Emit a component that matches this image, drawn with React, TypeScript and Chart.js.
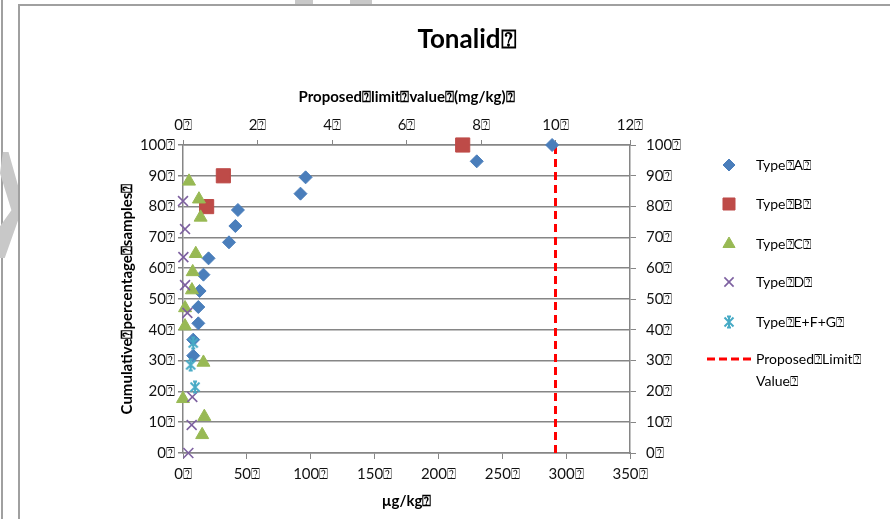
import React, { useEffect, useRef } from 'react';
import { Chart, registerables } from 'chart.js';
import { drawPoint } from 'chart.js/helpers';

Chart.register(...registerables);

const Q = '\u2370';
const FONT = 'Lato, "Open Sans", sans-serif';

const chartTitle = `Tonalid${Q}`;
const topAxisTitle = `Proposed${Q}limit${Q}value${Q}(mg/kg)${Q}`;
const bottomAxisTitle = `µg/kg${Q}`;
const yAxisTitle = `Cumulative${Q}percentage${Q}samples${Q}`;

const seriesNames = [`Type${Q}A${Q}`, `Type${Q}B${Q}`, `Type${Q}C${Q}`, `Type${Q}D${Q}`, `Type${Q}E+F+G${Q}`];
const limitLegendLines = [`Proposed${Q}Limit${Q}`, `Value${Q}`];

// concentration in µg/kg (bottom axis) and cumulative percentage of samples
const typeA_ugkg = [289, 230, 96, 92, 43, 41, 36, 20, 16, 13, 12, 12, 8, 8];
const typeA_pct = [100, 94.7, 89.5, 84.2, 78.9, 73.7, 68.4, 63.2, 57.9, 52.6, 47.4, 42.1, 36.8, 31.6];

const typeB_ugkg = [219, 31.6, 18.5];
const typeB_pct = [100, 90, 80];

const typeC_ugkg = [4.7, 12.5, 13.8, 10, 7.6, 7, 1.6, 1.6, 16, 0, 16.7, 15];
const typeC_pct = [88.2, 82.4, 76.5, 64.7, 58.8, 52.9, 47.1, 41.2, 29.4, 17.6, 11.8, 5.9];

const typeD_ugkg = [0, 1.6, 0.3, 1.6, 3.4, 7.3, 6.8, 4.2];
const typeD_pct = [81.8, 72.7, 63.6, 54.5, 45.5, 18.2, 9.1, 0];

const typeE_ugkg = [8, 6, 9.4];
const typeE_pct = [35.7, 28.6, 21.4];

// proposed limit value in mg/kg (top axis)
const limitValue_mgkg = 10;
const limitPct = [0, 100];

// axis ranges [min, max, step]
const bottomAxisRange = [0, 350, 50];
const topAxisRange = [0, 12, 2];
const pctAxisRange = [0, 100, 10];

const colors = ['#4A7EBB', '#BE4B48', '#98B954', '#7D60A0', '#46AAC5'];

function makeStar(color: string) {
  const c = document.createElement('canvas');
  c.width = 14;
  c.height = 14;
  const g = c.getContext('2d')!;
  g.strokeStyle = color;
  g.lineWidth = 2;
  g.beginPath();
  g.moveTo(7, 1);
  g.lineTo(7, 13);
  g.moveTo(2.5, 2.5);
  g.lineTo(11.5, 11.5);
  g.moveTo(11.5, 2.5);
  g.lineTo(2.5, 11.5);
  g.moveTo(5, 1.5);
  g.lineTo(9, 1.5);
  g.moveTo(5, 12.5);
  g.lineTo(9, 12.5);
  g.stroke();
  return c;
}

const pts = (xs: number[], ys: number[]) => xs.map((x, i) => ({ x, y: ys[i] }));
const tickLabel = (v: any) => `${v}${Q}`;

export default function App() {
  const ref = useRef<HTMLCanvasElement>(null);

  useEffect(() => {
    const star = makeStar(colors[4]);
    const styles: any[] = [
      { pointStyle: 'rectRot', radius: 6.5, borderWidth: 1 },
      { pointStyle: 'rect', radius: 10, borderWidth: 1 },
      { pointStyle: 'triangle', radius: 7.5, borderWidth: 1 },
      { pointStyle: 'crossRot', radius: 7, borderWidth: 1.6 },
      { pointStyle: star, radius: 7, borderWidth: 1 },
    ];
    const legendRadius = [6, 8.5, 7, 6.5, 7];
    const seriesData = [
      pts(typeA_ugkg, typeA_pct),
      pts(typeB_ugkg, typeB_pct),
      pts(typeC_ugkg, typeC_pct),
      pts(typeD_ugkg, typeD_pct),
      pts(typeE_ugkg, typeE_pct),
    ];

    const datasets: any[] = seriesData.map((data, i) => ({
      label: seriesNames[i],
      data,
      xAxisID: 'x',
      yAxisID: 'y',
      pointStyle: styles[i].pointStyle,
      pointRadius: styles[i].radius,
      borderWidth: styles[i].borderWidth,
      pointBorderWidth: styles[i].borderWidth,
      backgroundColor: colors[i],
      borderColor: colors[i],
      showLine: false,
      clip: false,
      order: 5 - i,
    }));
    datasets.push({
      label: limitLegendLines.join(' '),
      data: limitPct.map((y) => ({ x: limitValue_mgkg, y })),
      xAxisID: 'x2',
      yAxisID: 'y',
      showLine: true,
      borderColor: '#FF0000',
      borderWidth: 3,
      borderDash: [8, 5],
      pointRadius: 0,
      clip: false,
      order: 6,
    });

    const legendPlugin = {
      id: 'customLegend',
      afterDraw(chart: any) {
        const ctx = chart.ctx;
        const rowY = [165, 204, 244, 282, 322];
        ctx.save();
        ctx.font = `14px ${FONT}`;
        ctx.textBaseline = 'middle';
        ctx.textAlign = 'left';
        seriesNames.forEach((name, i) => {
          ctx.fillStyle = colors[i];
          ctx.strokeStyle = colors[i];
          ctx.lineWidth = styles[i].borderWidth;
          drawPoint(ctx, { pointStyle: styles[i].pointStyle, radius: legendRadius[i], rotation: 0, borderWidth: styles[i].borderWidth } as any, 729, rowY[i]);
          ctx.fillStyle = '#000';
          ctx.fillText(name, 756, rowY[i]);
        });
        ctx.strokeStyle = '#FF0000';
        ctx.lineWidth = 3;
        ctx.setLineDash([8, 4]);
        ctx.beginPath();
        ctx.moveTo(707, 359);
        ctx.lineTo(753, 359);
        ctx.stroke();
        ctx.setLineDash([]);
        ctx.fillStyle = '#000';
        ctx.fillText(limitLegendLines[0], 756, 359);
        ctx.fillText(limitLegendLines[1], 756, 381);
        ctx.restore();
      },
    };

    const tickFont = { family: FONT, size: 15 };
    const titleFont = { family: FONT, size: 15, weight: 'bold' as const };
    const axisGray = '#868686';

    const chart = new Chart(ref.current!, {
      type: 'scatter',
      data: { datasets },
      options: {
        responsive: false,
        animation: false,
        devicePixelRatio: 1,
        layout: { padding: { left: 44, right: 0, top: 0, bottom: 0 } },
        plugins: {
          legend: { display: false },
          tooltip: { enabled: false },
          title: {
            display: true,
            text: chartTitle,
            color: '#000',
            font: { family: FONT, size: 26, weight: 'bold' },
            padding: { top: 24.4, bottom: 0 },
          },
        },
        scales: {
          x: {
            type: 'linear',
            position: 'bottom',
            min: bottomAxisRange[0],
            max: bottomAxisRange[1],
            ticks: { stepSize: bottomAxisRange[2], callback: tickLabel, font: tickFont, color: '#111', padding: 6, maxRotation: 0 },
            grid: { drawOnChartArea: false, tickLength: 6, color: axisGray },
            border: { color: axisGray, width: 1.5 },
            title: { display: true, text: bottomAxisTitle, color: '#000', font: titleFont, padding: { top: 0, bottom: 9 } },
            afterFit(s: any) { s.height = 66; },
          },
          x2: {
            type: 'linear',
            position: 'top',
            min: topAxisRange[0],
            max: topAxisRange[1],
            ticks: { stepSize: topAxisRange[2], callback: tickLabel, font: tickFont, color: '#111', padding: 6, maxRotation: 0 },
            grid: { drawOnChartArea: false, tickLength: 5, color: axisGray },
            border: { color: axisGray, width: 1.5 },
            title: { display: true, text: topAxisTitle, color: '#000', font: titleFont, padding: { top: 32.4, bottom: 0 } },
            afterFit(s: any) { s.height = 89.4; },
          },
          y: {
            type: 'linear',
            position: 'left',
            min: pctAxisRange[0],
            max: pctAxisRange[1],
            ticks: { stepSize: pctAxisRange[2], callback: tickLabel, font: tickFont, color: '#111', padding: 3 },
            grid: { color: axisGray, lineWidth: 1.5, tickLength: 5 },
            border: { color: axisGray, width: 1.5 },
            title: { display: true, text: yAxisTitle, color: '#000', font: titleFont, padding: { top: 74, bottom: 0 } },
            afterFit(s: any) { s.width = 139; },
          },
          y2: {
            type: 'linear',
            position: 'right',
            min: pctAxisRange[0],
            max: pctAxisRange[1],
            ticks: { stepSize: pctAxisRange[2], callback: tickLabel, font: tickFont, color: '#111', padding: 10 },
            grid: { drawOnChartArea: false, tickLength: 6, color: axisGray },
            border: { color: axisGray, width: 1.5 },
            afterFit(s: any) { s.width = 260; },
          },
        },
      },
      plugins: [legendPlugin],
    } as any);
    return () => chart.destroy();
  }, []);

  const gray = '#a0a0a0';
  const wm = '#c8c8c8';
  return (
    <div style={{ position: 'fixed', left: 0, top: 0, width: 890, height: 519, background: '#fff', overflow: 'hidden' }}>
      <div style={{ position: 'absolute', left: 1, top: 0, width: 2, height: 519, background: gray }} />
      <div style={{ position: 'absolute', left: 0, top: 152, width: 19, height: 106, background: wm, clipPath: 'polygon(15% 0%, 45% 0%, 100% 35%, 100% 62%, 25% 100%, 0% 100%, 0% 70%, 60% 55%, 0% 20%)' }} />
      <div style={{ position: 'absolute', left: 295, top: 0, width: 18, height: 5, background: wm }} />
      <div style={{ position: 'absolute', left: 350, top: 0, width: 22, height: 5, background: wm }} />
      <div style={{ position: 'absolute', left: 18, top: 4, width: 872, height: 515, borderLeft: `2px solid ${gray}`, borderTop: `2px solid ${gray}`, boxSizing: 'border-box' }} />
      <canvas ref={ref} width={890} height={519} style={{ position: 'absolute', left: 0, top: 0, width: 890, height: 519 }} />
    </div>
  );
}
